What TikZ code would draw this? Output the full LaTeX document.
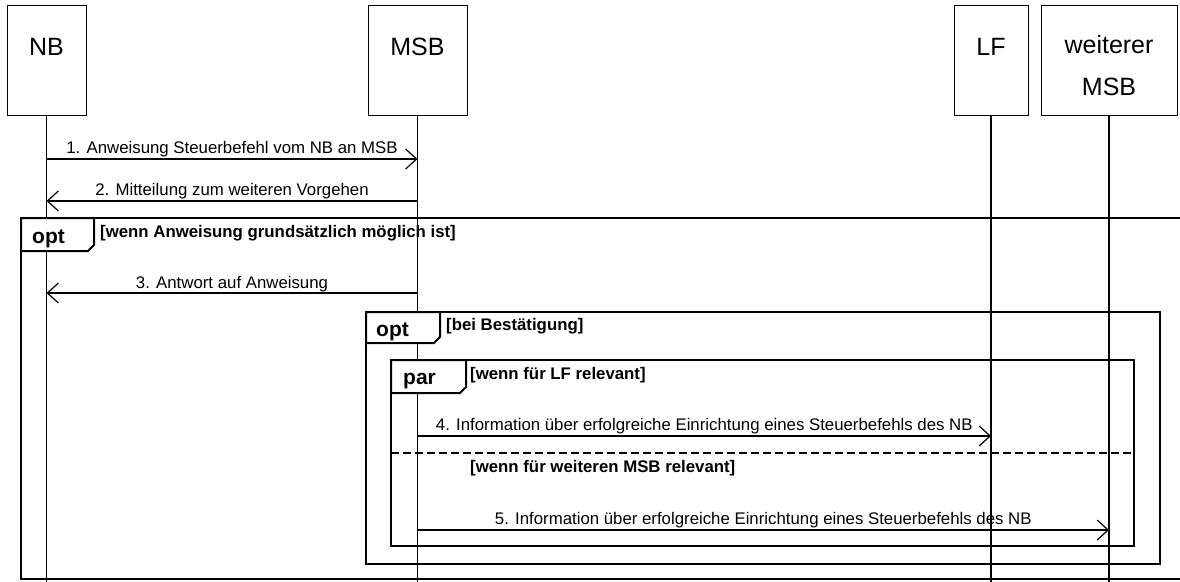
\documentclass[tikz,border=0pt]{standalone}
\usepackage{fontspec}
\setmainfont{Liberation Sans}
\usetikzlibrary{arrows.meta}
\begin{document}
\begin{tikzpicture}[x=1pt,y=-1pt,
  actor/.style={draw, line width=1pt, fill=white, inner sep=0pt},
  actorlabel/.style={anchor=base, font=\fontsize{25}{30}\selectfont, inner sep=0pt},
  life/.style={line width=1.2pt},
  msg/.style={line width=1.2pt, -{Straight Barb[length=11pt,width=20pt,line width=1.2pt]}},
  msglabel/.style={font=\fontsize{16.8}{20}\selectfont, anchor=base, inner sep=0pt},
  frameline/.style={line width=2pt},
  tabshape/.style={line width=2pt, fill=white, line join=miter},
  tablabel/.style={font=\bfseries\fontsize{21}{25}\selectfont, anchor=base west, inner sep=0pt},
  guard/.style={font=\bfseries\fontsize{16.8}{20}\selectfont, anchor=base west, inner sep=0pt}]
\path[use as bounding box] (0,0) rectangle (1180,581);
\clip (0,0) rectangle (1180,581);

% actors
\node[actor, minimum width=79pt, minimum height=110pt] (nb) at (46.5,60) {};
\node[actor, minimum width=99pt, minimum height=110pt] (msb) at (417.5,60) {};
\node[actor, minimum width=74pt, minimum height=110pt] (lf) at (991,60) {};
\node[actor, minimum width=136pt, minimum height=110pt] (wmsb) at (1109,60) {};
\node[actorlabel] (nbt) at (46.5,55) {NB};
\node[actorlabel] (msbt) at (417.5,55) {MSB};
\node[actorlabel] (lft) at (991,55) {LF};
\node[actorlabel] (wmsbt1) at (1109,53) {weiterer};
\node[actorlabel] (wmsbt2) at (1109,95) {MSB};

% lifelines
\coordinate (bottom) at (0,590);
\draw[life] (nb.south) -- (nb.south |- bottom);
\draw[life] (msb.south) -- (msb.south |- bottom);
\draw[life] (lf.south) -- (lf.south |- bottom);
\draw[life] (wmsb.south) -- (wmsb.south |- bottom);

% outer opt frame
\draw[frameline] (1200,218) -- (21,218) -- (21,579) -- (1200,579);
\draw[tabshape] (21,218) -- (94,218) -- (94,245) -- (88,251) -- (21,251) -- cycle;
\node[tablabel] (opt1) at (32,243) {opt};
\node[guard] (g1) at (100,237) {[wenn Anweisung grundsätzlich möglich ist]};

% inner opt frame
\draw[frameline] (366,312) rectangle (1160,564);
\draw[tabshape] (366,312) -- (440,312) -- (440,337) -- (434,343) -- (366,343) -- cycle;
\node[tablabel] (opt2) at (376,336) {opt};
\node[guard] (g2) at (446,330) {[bei Bestätigung]};

% par frame
\draw[frameline] (391,360) rectangle (1134,546);
\draw[tabshape] (391,360) -- (466,360) -- (466,387) -- (460,393) -- (391,393) -- cycle;
\node[tablabel] (par1) at (403,384) {par};
\node[guard] (g3) at (470,379) {[wenn für LF relevant]};
\draw[frameline, dash pattern=on 8pt off 4pt] (391,453) -- (1134,453);
\node[guard] (g4) at (470,472) {[wenn für weiteren MSB relevant]};

% messages
\draw[msg] (nb.south |- 0,159) -- (msb.south |- 0,159)
  node[msglabel, pos=0.5, yshift=6pt] (m1) {1. Anweisung Steuerbefehl vom NB an MSB};
\draw[msg] (msb.south |- 0,201) -- (nb.south |- 0,201)
  node[msglabel, pos=0.5, yshift=6pt] (m2) {2. Mitteilung zum weiteren Vorgehen};
\draw[msg] (msb.south |- 0,293) -- (nb.south |- 0,293)
  node[msglabel, pos=0.5, yshift=5pt] (m3) {3. Antwort auf Anweisung};
\draw[msg] (msb.south |- 0,436) -- (lf.south |- 0,436)
  node[msglabel, pos=0.5, yshift=6pt] (m4) {4. Information über erfolgreiche Einrichtung eines Steuerbefehls des NB};
\draw[msg] (msb.south |- 0,530) -- (wmsb.south |- 0,530)
  node[msglabel, pos=0.5, yshift=6pt] (m5) {5. Information über erfolgreiche Einrichtung eines Steuerbefehls des NB};
\end{tikzpicture}
\end{document}
